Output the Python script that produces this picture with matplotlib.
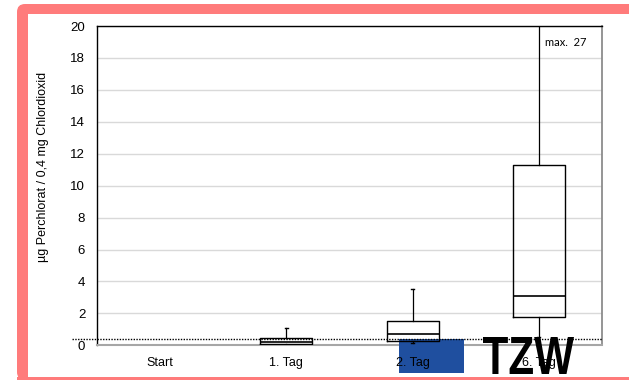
import matplotlib
matplotlib.use('agg')
import matplotlib.pyplot as plt
from matplotlib.patches import FancyBboxPatch, Rectangle, PathPatch
from matplotlib.textpath import TextPath
from matplotlib.font_manager import FontProperties
from matplotlib.transforms import Affine2D

# data (ug perchlorate per 0.4 mg chlorine dioxide)
categories = ['Start', '1. Tag', '2. Tag', '6. Tag']
whislo = [0.0, 0.0, 0.15, 0.55]
q1 = [0.0, 0.1, 0.3, 1.77]
med = [0.0, 0.2, 0.7, 3.1]
q3 = [0.0, 0.46, 1.5, 11.3]
whishi = [0.0, 1.1, 3.5, 27.0]
limit = 0.4
max_label = 'max.  27'

W, H = 629, 380
fig = plt.figure(figsize=(W / 100, H / 100), dpi=100)
fig.patch.set_facecolor('white')
fig_px = Affine2D().scale(1 / W, 1 / H) + fig.transFigure

# pink frame: top band, left band, bottom band (pixel coords, origin bottom left)
pink = '#ff7b7b'
fig.patches.append(FancyBboxPatch((17, 0), 40, H - 4,
                                  boxstyle='round,pad=0,rounding_size=8',
                                  transform=fig_px, fc=pink, ec='none', zorder=-3))
fig.patches.append(Rectangle((40, H - 14), W - 40, 10, transform=fig_px,
                             fc=pink, ec='none', zorder=-3))
fig.patches.append(Rectangle((17, 0), W - 17, 3, transform=fig_px,
                             fc=pink, ec='none', zorder=-3))
fig.patches.append(Rectangle((28, 3), W - 28, H - 17, transform=fig_px,
                             fc='white', ec='none', zorder=-2))

ax = fig.add_axes([97 / W, 1 - 345.3 / H, 505 / W, 319.3 / H])

stats = []
for i, c in enumerate(categories):
    if c == 'Start':
        continue
    stats.append(dict(label=c, whislo=whislo[i], q1=q1[i], med=med[i], q3=q3[i], whishi=whishi[i]))
pos = [i for i, c in enumerate(categories) if c != 'Start']

ax.bxp(stats, positions=pos, widths=0.41, capwidths=0.025, showfliers=False,
       boxprops=dict(color='black', lw=1.0),
       medianprops=dict(color='black', lw=1.2),
       whiskerprops=dict(color='black', lw=0.9),
       capprops=dict(color='black', lw=1.0), zorder=2.8)

ax.plot([-0.05, 1], [limit, limit], transform=ax.get_yaxis_transform(), clip_on=False,
        color='black', lw=1.0, ls=(0, (1, 1)), zorder=2.9)

ax.set_xlim(-0.5, 3.5)
ax.set_ylim(0, 20)
ax.set_yticks(range(0, 21, 2))
ax.set_xticks(range(len(categories)))
ax.set_xticklabels(categories, fontsize=9, family='Liberation Sans')
for lb in ax.get_yticklabels():
    lb.set_fontsize(9.5)
    lb.set_family('Liberation Sans')
ax.tick_params(axis='y', length=0, pad=8.5)
ax.tick_params(axis='x', length=0, pad=8.5)
ax.yaxis.grid(True, color='#d9d9d9', lw=1.0)
ax.set_axisbelow(True)

ax.spines['left'].set_color('black')
ax.spines['top'].set_color('black')
ax.spines['left'].set_linewidth(1.0)
ax.spines['top'].set_linewidth(1.0)
ax.spines['right'].set_color('#8c8c8c')
ax.spines['bottom'].set_color('#a6a6a6')
ax.spines['right'].set_linewidth(1.3)
ax.spines['bottom'].set_linewidth(1.5)

ax.text(3.048, 18.95, max_label, fontsize=8, family='Lato', va='center', ha='left')

fig.text(43 / W, 1 - 167 / H, 'µg Perchlorat / 0,4 mg Chlordioxid', rotation=90,
         ha='center', va='center', fontsize=9, family='Liberation Sans')

# logo overlay: blue block sits under "2. Tag", TZW lettering covers "6. Tag"
ax.xaxis.set_zorder(2.75)
ax.add_patch(Rectangle((399, H - 373), 65, 34, transform=fig_px, fc='#1f4f9f', ec='none',
                       clip_on=False, zorder=2.7))
tp = TextPath((0, 0), 'TZW', size=1, prop=FontProperties(family='Liberation Sans', weight='bold'))
ext = tp.get_extents()
sx = 91 / ext.width
sy = 37 / ext.height
tr = Affine2D().translate(-ext.x0, -ext.y0).scale(sx, sy).translate(483, H - 374) + fig_px
ax.add_patch(PathPatch(tp, transform=tr, fc='black', ec='none', clip_on=False, zorder=2.76))

fig.savefig('out.png', dpi=100)
